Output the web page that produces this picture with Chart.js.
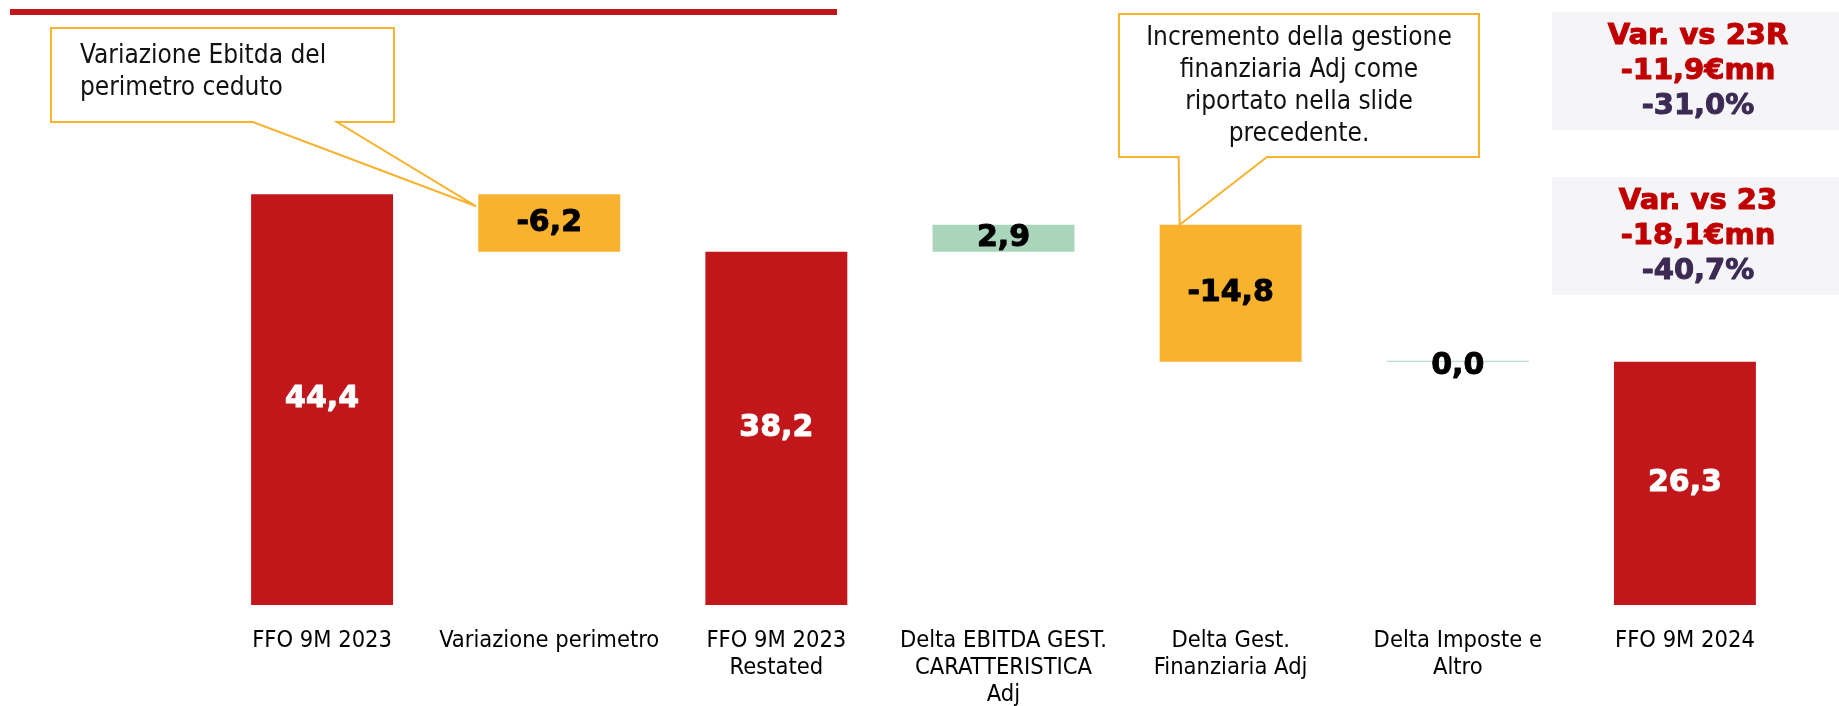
<!DOCTYPE html>
<html>
<head>
<meta charset="utf-8">
<script src="https://cdn.jsdelivr.net/npm/chart.js@4.4.1/dist/chart.umd.min.js"></script>
<style>
  html, body { margin: 0; padding: 0; background: #fff; }
  #chart { display: block; }
</style>
</head>
<body>
<canvas id="chart" width="1839" height="706"></canvas>
<script>
// ---- data ----
const categories = [
  "FFO 9M 2023",
  "Variazione perimetro",
  ["FFO 9M 2023", "Restated"],
  ["Delta EBITDA GEST.", "CARATTERISTICA", "Adj"],
  ["Delta Gest.", "Finanziaria Adj"],
  ["Delta Imposte e", "Altro"],
  "FFO 9M 2024"
];
const values = [44.4, -6.2, 38.2, 2.9, -14.8, 0.0, 26.3];
const isTotal = [true, false, true, false, false, false, true];

const boxVs23R = ["Var. vs 23R", "-11,9€mn", "-31,0%"];
const boxVs23 = ["Var. vs 23", "-18,1€mn", "-40,7%"];
const note1 = ["Variazione Ebitda del", "perimetro ceduto"];
const note2 = ["Incremento della gestione", "finanziaria Adj come", "riportato nella slide", "precedente."];

const RED = "#C1171B";
const ORANGE = "#F9B22E";
const GREEN = "#A9D5BB";

// waterfall ranges from the running total
let running = 0;
const ranges = values.map((v, i) => {
  if (isTotal[i]) {
    running = v;
    return [0, v];
  }
  const start = running;
  running = +(running + v).toFixed(1);
  return [Math.min(start, running), Math.max(start, running)];
});
const barColors = values.map((v, i) => (isTotal[i] ? RED : v < 0 ? ORANGE : GREEN));

const fmt = (v) => v.toFixed(1).replace(".", ",");

// heavy text: fill plus a thin stroke in the same colour
function heavyText(ctx, t, x, y, color, w) {
  ctx.fillStyle = color;
  ctx.strokeStyle = color;
  ctx.lineWidth = w;
  ctx.lineJoin = "round";
  ctx.strokeText(t, x, y);
  ctx.fillText(t, x, y);
}

// ---- value labels inside bars ----
const valueLabels = {
  id: "valueLabels",
  afterDatasetsDraw(chart) {
    const ctx = chart.ctx;
    const meta = chart.getDatasetMeta(0);
    ctx.save();
    ctx.font = 'bold 30px "DejaVu Sans"';
    ctx.textAlign = "center";
    ctx.textBaseline = "middle";
    meta.data.forEach((bar, i) => {
      let y = (bar.y + bar.base) / 2;
      if (values[i] === 0) y += 5;
      heavyText(ctx, fmt(values[i]), bar.x, y, isTotal[i] ? "#ffffff" : "#000000", 1);
    });
    ctx.restore();
  }
};

// ---- callouts, boxes, top rule ----
function drawCallout(ctx, box, tailA, tailB, tip, lines, align, firstY) {
  ctx.save();
  ctx.beginPath();
  ctx.moveTo(box.x0, box.y0);
  ctx.lineTo(box.x1, box.y0);
  ctx.lineTo(box.x1, box.y1);
  ctx.lineTo(tailB, box.y1);
  ctx.lineTo(tip.x, tip.y);
  ctx.lineTo(tailA, box.y1);
  ctx.lineTo(box.x0, box.y1);
  ctx.closePath();
  ctx.fillStyle = "#ffffff";
  ctx.fill();
  ctx.lineWidth = 2;
  ctx.strokeStyle = ORANGE;
  ctx.stroke();

  ctx.fillStyle = "#111111";
  ctx.font = '26px "DejaVu Sans Condensed"';
  ctx.textBaseline = "middle";
  ctx.textAlign = align;
  const tx = align === "center" ? (box.x0 + box.x1) / 2 : box.x0 + 29;
  lines.forEach((t, i) => ctx.fillText(t, tx, box.y0 + firstY + i * 32));
  ctx.restore();
}

function drawVarBox(ctx, top, lines) {
  ctx.save();
  ctx.fillStyle = "#F5F5F7";
  ctx.fillRect(1552, top, 287, 118);
  ctx.font = 'bold 29px "DejaVu Sans"';
  ctx.textAlign = "center";
  ctx.textBaseline = "middle";
  lines.forEach((t, i) => {
    heavyText(ctx, t, 1698, top + 24 + i * 35, i < 2 ? "#C00000" : "#3C2A55", 1);
  });
  ctx.restore();
}

const annotations = {
  id: "annotations",
  afterDraw(chart) {
    const ctx = chart.ctx;
    const bars = chart.getDatasetMeta(0).data;

    // red rule at the top
    ctx.save();
    ctx.fillStyle = RED;
    ctx.fillRect(10, 9, 827, 6);
    ctx.restore();

    const b1 = bars[1];
    drawCallout(ctx, { x0: 51, y0: 28, x1: 394, y1: 122 }, 253, 337,
      { x: b1.x - b1.width / 2 - 2, y: Math.min(b1.y, b1.base) + 12 }, note1, "left", 28);

    const b4 = bars[4];
    const tipX = b4.x - b4.width / 2 + 20;
    drawCallout(ctx, { x0: 1119, y0: 14, x1: 1479, y1: 157 }, tipX - 1, 1267,
      { x: tipX, y: Math.min(b4.y, b4.base) }, note2, "center", 24);

    drawVarBox(ctx, 12, boxVs23R);
    drawVarBox(ctx, 177, boxVs23);
  }
};

new Chart(document.getElementById("chart"), {
  type: "bar",
  data: {
    labels: categories,
    datasets: [
      {
        data: ranges,
        backgroundColor: barColors,
        borderWidth: 0,
        barPercentage: 0.625,
        categoryPercentage: 1,
        minBarLength: 1
      }
    ]
  },
  options: {
    responsive: false,
    animation: false,
    layout: { padding: { left: 208.5, right: 40.5, top: 50, bottom: 0 } },
    plugins: {
      legend: { display: false },
      tooltip: { enabled: false }
    },
    scales: {
      x: {
        grid: { display: false, drawTicks: false },
        border: { display: false },
        ticks: {
          color: "#000000",
          font: { family: '"DejaVu Sans Condensed", "DejaVu Sans"', size: 23.5, lineHeight: 1.15 },
          padding: 22,
          maxRotation: 0,
          autoSkip: false
        },
        afterFit(scale) {
          scale.height = 101;
        }
      },
      y: { display: false, min: 0, max: 60 }
    }
  },
  plugins: [valueLabels, annotations]
});
</script>
</body>
</html>
